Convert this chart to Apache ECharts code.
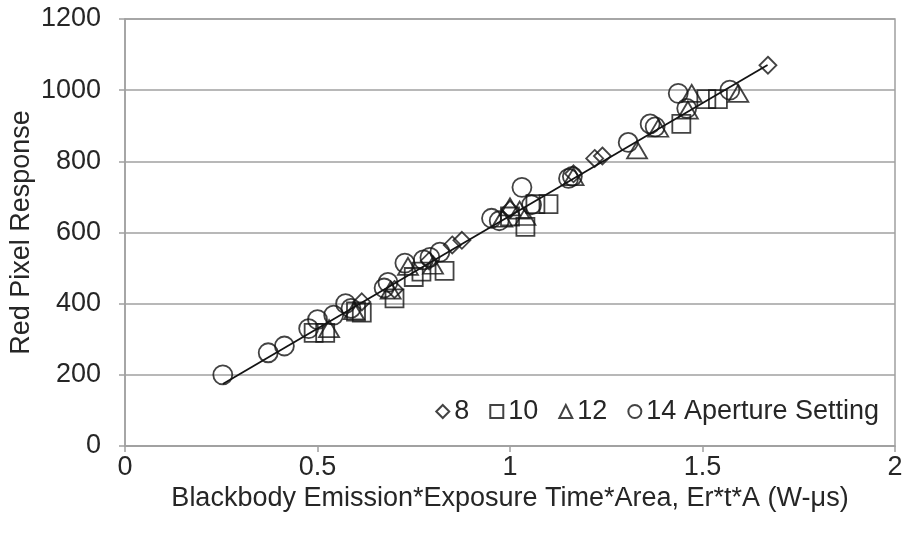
<!DOCTYPE html>
<html>
<head>
<meta charset="utf-8">
<script src="https://cdn.jsdelivr.net/npm/echarts@6/dist/echarts.min.js"></script>
<style>html,body{margin:0;padding:0;background:#fff}#c{width:906px;height:533px}</style>
</head>
<body>
<div id="c"></div>
<script>
const xTicks = [0, 0.5, 1, 1.5, 2];
const yTicks = [0, 200, 400, 600, 800, 1000, 1200];
const seriesNames = ['8', '10', '12', '14 Aperture Setting'];

const ap8X = [0.615, 0.70, 0.79, 0.85, 0.875, 1.00, 1.165, 1.22, 1.24, 1.67];
const ap8Y = [405, 440, 520, 565, 578, 665, 765, 808, 815, 1070];

const ap10X = [0.49, 0.52, 0.60, 0.615, 0.70, 0.75, 0.77, 0.83, 1.00, 1.04, 1.066, 1.10, 1.445, 1.51, 1.54];
const ap10Y = [318, 318, 378, 375, 415, 475, 490, 492, 645, 616, 680, 680, 905, 975, 975];

const ap12X = [0.53, 0.595, 0.69, 0.735, 0.80, 0.98, 1.00, 1.025, 1.04, 1.165, 1.33, 1.385, 1.462, 1.472, 1.593];
const ap12Y = [330, 380, 438, 505, 508, 640, 672, 663, 645, 757, 832, 893, 944, 991, 991];

const ap14X = [0.254, 0.372, 0.414, 0.477, 0.50, 0.542, 0.573, 0.587, 0.673, 0.683, 0.727, 0.775, 0.792, 0.818, 0.952, 0.972, 1.031, 1.056, 1.152, 1.162, 1.307, 1.364, 1.377, 1.437, 1.459, 1.571];
const ap14Y = [200, 262, 281, 330, 355, 368, 400, 387, 444, 460, 514, 523, 530, 545, 640, 633, 727, 678, 752, 758, 853, 905, 897, 991, 949, 1000];

const trendX = [0.254, 1.669];
const trendY = [174, 1071];

const zip = (xs, ys) => xs.map((x, i) => [x, ys[i]]);
const FONT = '"Liberation Sans", Arial, sans-serif';
const TXT = '#262626';
const AX = '#a0a0a0';
const FS = 27;
const mk = {color: 'rgba(0,0,0,0)', borderColor: '#141414', borderWidth: 1.8};

const chart = echarts.init(document.getElementById('c'), null, {renderer: 'canvas'});
chart.setOption({
  animation: false,
  backgroundColor: '#fff',
  textStyle: {fontFamily: FONT},
  grid: {left: 125, right: 11, top: 19, bottom: 87, show: true, borderColor: AX, borderWidth: 1.5,
         containLabel: false, outerBoundsMode: 'none'},
  legend: {
    data: seriesNames,
    right: 22, top: 393,
    itemWidth: 13, itemHeight: 13, itemGap: 20,
    textStyle: {fontSize: FS, color: TXT, fontFamily: FONT},
    selectedMode: false
  },
  xAxis: {
    type: 'value', min: xTicks[0], max: xTicks[xTicks.length - 1], interval: 0.5,
    name: 'Blackbody Emission*Exposure Time*Area, Er*t*A (W-μs)',
    nameLocation: 'middle', nameGap: 39, nameMoveOverlap: false,
    nameTextStyle: {fontSize: FS, color: TXT, fontFamily: FONT},
    axisLine: {show: true, lineStyle: {color: AX, width: 1.5}},
    axisTick: {show: true, length: 6, lineStyle: {color: AX, width: 1.5}},
    axisLabel: {fontSize: FS, color: TXT, margin: 8, fontFamily: FONT, formatter: v => String(v)},
    splitLine: {show: false}
  },
  yAxis: {
    type: 'value', min: yTicks[0], max: yTicks[yTicks.length - 1], interval: 200,
    name: 'Red Pixel Response',
    nameLocation: 'middle', nameGap: 90, nameMoveOverlap: false,
    nameTextStyle: {fontSize: FS, color: TXT, fontFamily: FONT},
    axisLine: {show: true, lineStyle: {color: AX, width: 1.5}},
    axisTick: {show: true, length: 6, lineStyle: {color: AX, width: 1.5}},
    axisLabel: {fontSize: FS, color: TXT, margin: 24, fontFamily: FONT, formatter: v => String(v)},
    splitLine: {show: true, lineStyle: {color: AX, width: 1.5}}
  },
  series: [
    {name: seriesNames[0], type: 'scatter', symbol: 'diamond', symbolSize: 17, itemStyle: mk, data: zip(ap8X, ap8Y), z: 3},
    {name: seriesNames[1], type: 'scatter', symbol: 'rect', symbolSize: 18, itemStyle: mk, data: zip(ap10X, ap10Y), z: 3},
    {name: seriesNames[2], type: 'scatter', symbol: 'triangle', symbolSize: [20, 17], itemStyle: mk, data: zip(ap12X, ap12Y), z: 3},
    {name: seriesNames[3], type: 'scatter', symbol: 'circle', symbolSize: 19, itemStyle: mk, data: zip(ap14X, ap14Y), z: 3},
    {name: 'trend', type: 'line', data: zip(trendX, trendY), showSymbol: false, symbol: 'none',
     lineStyle: {color: '#141414', width: 1.8}, z: 2, silent: true}
  ]
});
</script>
</body>
</html>
